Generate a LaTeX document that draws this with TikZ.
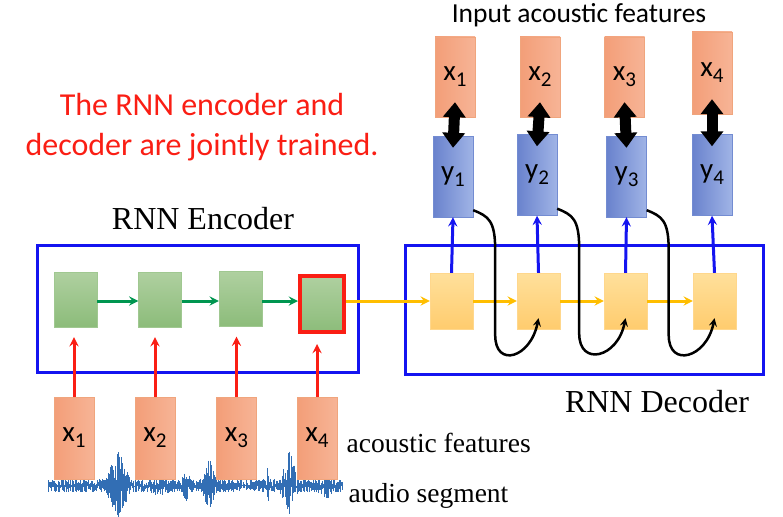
\documentclass[tikz,border=0pt]{standalone}
\usepackage{fontspec}
\setmainfont{Liberation Serif}
\setsansfont{Carlito}
\usetikzlibrary{arrows.meta}

\definecolor{framblue}{RGB}{20,20,240}
\definecolor{featred}{RGB}{250,30,20}
\definecolor{encarrow}{RGB}{0,150,80}
\definecolor{decarrow}{RGB}{255,190,0}
\definecolor{wavecol}{RGB}{50,110,180}
\definecolor{featline}{RGB}{240,165,125}
\definecolor{featdark}{RGB}{243,158,120}
\definecolor{featlight}{RGB}{247,180,150}
\definecolor{outline}{RGB}{115,140,210}
\definecolor{outdark}{RGB}{105,130,205}
\definecolor{outlight}{RGB}{160,180,230}
\definecolor{encline}{RGB}{160,200,145}
\definecolor{enctop}{RGB}{175,208,160}
\definecolor{encbot}{RGB}{140,188,122}
\definecolor{decline}{RGB}{255,215,140}
\definecolor{dectop}{RGB}{255,224,155}
\definecolor{decbot}{RGB}{255,204,110}
\newcommand\lowsub[1]{\raisebox{-6pt}{\fontsize{21}{21}\selectfont #1}}

\begin{document}
\begin{tikzpicture}[x=1pt, y=-1pt, >=stealth,
    frame/.style={draw=framblue, line width=3pt},
    featbox/.style={draw=featline, left color=featdark, right color=featlight,
      minimum width=40pt, minimum height=80pt, inner sep=0pt, font=\sffamily\fontsize{29}{29}\selectfont},
    outbox/.style={draw=outline, left color=outdark, right color=outlight,
      minimum width=40pt, minimum height=81pt, inner sep=0pt, font=\sffamily\fontsize{29}{29}\selectfont},
    encbox/.style={draw=encline, top color=enctop, bottom color=encbot,
      minimum width=43pt, minimum height=55pt, inner sep=0pt},
    decbox/.style={draw=decline, top color=dectop, bottom color=decbot,
      minimum width=43pt, minimum height=56pt, inner sep=0pt},
    enclink/.style={->, draw=encarrow, line width=3pt},
    declink/.style={->, draw=decarrow, line width=3pt},
    inlink/.style={->, draw=featred, line width=3pt},
    uplink/.style={->, draw=framblue, line width=3pt},
    loopback/.style={->, line width=2.5pt, black},
    match/.style={{Triangle[width=22pt,length=15pt]}-{Triangle[width=22pt,length=15pt]}, line width=11pt, black},
    wave/.style={draw=wavecol, line width=0.8pt}]
  \useasboundingbox (0,0) rectangle (783,516);
  \coordinate (lane) at (0,301);

  % texts
  \node[text=featred, align=center, font=\sffamily\fontsize{32}{40}\selectfont] (note) at (202,127)
    {The RNN encoder and\\decoder are jointly trained.};
  \node[font=\sffamily\fontsize{27.5}{27.5}\selectfont] (inlabel) at (579,15) {Input acoustic features};
  \node[font=\fontsize{32}{32}\selectfont] (enclabel) at (203,219) {RNN Encoder};
  \node[font=\fontsize{32}{32}\selectfont] (declabel) at (657,402) {RNN Decoder};

  % frames
  \node[frame, minimum width=321pt, minimum height=127pt] (enc) at (197.5,308.5) {};
  \node[frame, minimum width=358pt, minimum height=129pt] (dec) at (584,309.5) {};

  % encoder
  \node[encbox] (e1) at (75.5,299.5) {};
  \node[encbox] (e2) at (160,299.5) {};
  \node[encbox] (e3) at (240.5,299) {};
  \node[encbox, draw=featred, line width=4pt, minimum width=44pt, minimum height=56pt] (e4) at (322,304) {};
  \draw[enclink] (e1.east |- lane) -- (e2.west |- lane);
  \draw[enclink] (e2.east |- lane) -- (e3.west |- lane);
  \draw[enclink] (e3.east |- lane) -- (e4.west |- lane);

  % decoder
  \node[decbox] (d1) at (451.5,301) {};
  \node[decbox] (d2) at (538.5,301) {};
  \node[decbox] (d3) at (625.5,301) {};
  \node[decbox] (d4) at (714.5,301) {};
  \draw[declink] (e4.east |- lane) -- (d1.west);
  \draw[declink] (d1) -- (d2);
  \draw[declink] (d2) -- (d3);
  \draw[declink] (d3) -- (d4);

  % outputs and targets
  \node[outbox] (y1) at (453,176.5) {y\lowsub{1}};
  \node[outbox] (y2) at (537,175) {y\lowsub{2}};
  \node[outbox] (y3) at (626.5,176.5) {y\lowsub{3}};
  \node[outbox] (y4) at (712,175) {y\lowsub{4}};
  \node[featbox] (t1) at (455,77) {x\lowsub{1}};
  \node[featbox] (t2) at (540,77) {x\lowsub{2}};
  \node[featbox] (t3) at (624.5,77) {x\lowsub{3}};
  \node[featbox, minimum height=82pt] (t4) at (712,73) {x\lowsub{4}};
  \foreach \i in {1,...,4} {
    \draw[uplink] (d\i.north) -- (y\i.south);
    \draw[match] ([yshift=15pt]t\i.south) -- ([yshift=-12pt]y\i.north);
  }
  \foreach \i/\j in {1/2,2/3,3/4}
    \draw[loopback] ([yshift=7pt]y\i.south east) .. controls +(15,6) and +(0,-30) .. ++(22,40)
      -- ++(0,85) .. controls +(0,33) and +(-8,40) .. ([yshift=11pt]d\j.south);

  % audio segment
  \pgfmathsetseed{17}
  \foreach \t in {48,48.6,...,343} {
    \pgfmathsetmacro\env{7+30*max(0,1-abs(\t-118)/13)+12*max(0,1-abs(\t-186)/5)+22*max(0,1-abs(\t-209)/8)
      +14*max(0,1-abs(\t-268)/2)+30*max(0,1-abs(\t-289)/10)+8*max(0,1-abs(\t-327)/10)+6*max(0,1-abs(\t-160)/10)}
    \pgfmathsetmacro\up{\env*rnd}
    \pgfmathsetmacro\dn{\env*rnd*0.9}
    \draw[wave] (\t,486-\up) -- (\t,486+\dn);
  }

  % acoustic features
  \node[featbox, minimum width=40pt, minimum height=82pt] (x1) at (74,438) {x\lowsub{1}};
  \node[featbox, minimum width=40pt, minimum height=82pt] (x2) at (155,438) {x\lowsub{2}};
  \node[featbox, minimum width=40pt, minimum height=82pt] (x3) at (236.5,438) {x\lowsub{3}};
  \node[featbox, minimum width=40pt, minimum height=82pt] (x4) at (317,438) {x\lowsub{4}};
  \foreach \i in {1,...,4}
    \draw[inlink, shorten >=10pt] (x\i.north) -- (x\i.north |- e\i.south);
  \coordinate (featrow) at (0,443);
  \coordinate (audiorow) at (0,496);
  \node[font=\fontsize{27.5}{27.5}\selectfont, anchor=west, xshift=6pt] (featlabel) at (x4.east |- featrow) {acoustic features};
  \node[font=\fontsize{27.5}{27.5}\selectfont, anchor=west, xshift=8pt] (audiolabel) at (x4.east |- audiorow) {audio segment};
\end{tikzpicture}
\end{document}
